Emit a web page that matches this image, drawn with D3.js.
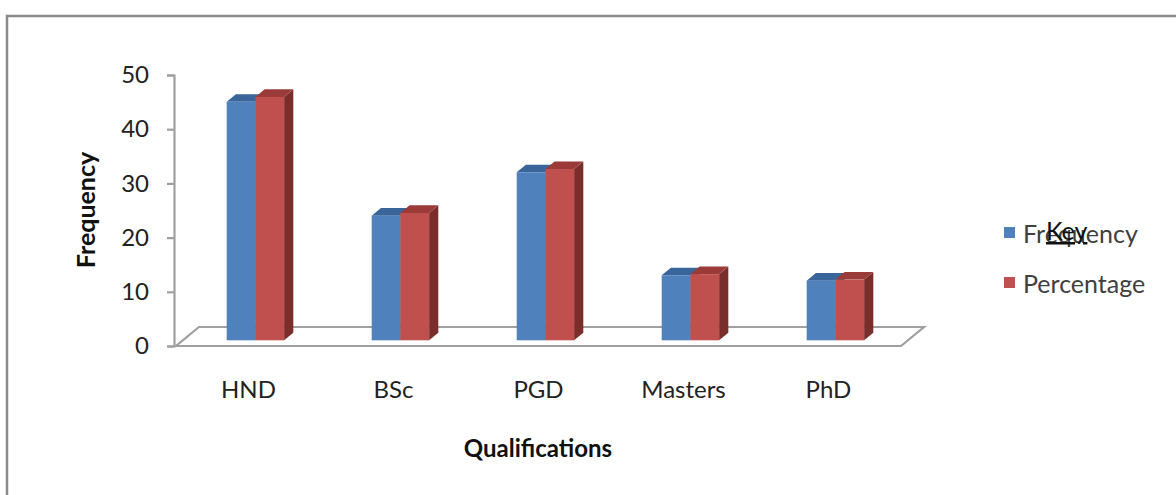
<!DOCTYPE html>
<html>
<head>
<meta charset="utf-8">
<script src="https://cdn.jsdelivr.net/npm/d3@7"></script>
<style>
  html, body { margin: 0; padding: 0; background: #fff; }
  svg { display: block; }
  text { font-family: Lato, "Open Sans", sans-serif; }
</style>
</head>
<body>
<svg id="chart" width="1176" height="495"></svg>
<script>
// Respondents by highest qualification
const categories = ["HND", "BSc", "PGD", "Masters", "PhD"];
const seriesNames = ["Frequency", "Percentage"];
const frequency = [44, 23, 31, 12, 11];
const percentage = [44.9, 23.5, 31.6, 12.2, 11.2];
const yTicks = [0, 10, 20, 30, 40, 50];

const seriesValues = [frequency, percentage];
const faceColors = ["#4F81BD", "#C0504D"];
const topColors = ["#3A659A", "#9A3B39"];
const sideColors = ["#2F5380", "#7A2E2C"];

const svg = d3.select("#chart");

// outer frame (opens past the right and bottom edges)
svg.append("path")
  .attr("d", "M7,500 L7,16 L1180,16")
  .attr("fill", "none")
  .attr("stroke", "#8a8a8a")
  .attr("stroke-width", 2.5);

// plot geometry: front edge of floor and depth vector
const floorLeft = 176, floorRight = 901;
const depth = { dx: 23, dy: -19 };
const barFront = 0.3, barBack = 0.7;

const y = d3.scaleLinear().domain([0, 50]).range([346, 75]);
const x = d3.scaleBand().domain(categories).range([floorLeft, floorRight])
  .paddingInner(0.604).paddingOuter(0.302);
const xs = d3.scaleBand().domain(seriesNames).range([0, x.bandwidth()]);

// floor
const y0 = y(0);
svg.append("path")
  .attr("d", `M${floorLeft},${y0} L${floorRight},${y0} L${floorRight + depth.dx},${y0 + depth.dy} L${floorLeft + depth.dx},${y0 + depth.dy} Z`)
  .attr("fill", "#fff")
  .attr("stroke", "#a0a0a0")
  .attr("stroke-width", 2.2);

// value axis
const yAxis = d3.axisLeft(y).tickValues(yTicks).tickSize(7).tickPadding(18);
const gy = svg.append("g").attr("transform", "translate(174,0)").call(yAxis);
gy.select(".domain").attr("stroke", "#a0a0a0").attr("stroke-width", 2.2);
gy.selectAll(".tick line").attr("stroke", "#a0a0a0").attr("stroke-width", 2.2);
gy.selectAll(".tick text").attr("font-size", 24).attr("fill", "#222");

// bars (side and top faces first, front face last)
const fx = depth.dx * barFront, fy = depth.dy * barFront;
const bdx = depth.dx * (barBack - barFront), bdy = depth.dy * (barBack - barFront);

categories.forEach((cat, ci) => {
  seriesNames.forEach((s, si) => {
    const v = seriesValues[si][ci];
    const x0 = x(cat) + xs(s) + fx;
    const x1 = x0 + xs.bandwidth();
    const yb = y(0) + fy;
    const yt = y(v) + fy;
    const g = svg.append("g");
    g.append("path")
      .attr("d", `M${x1},${yb} L${x1 + bdx},${yb + bdy} L${x1 + bdx},${yt + bdy} L${x1},${yt} Z`)
      .attr("fill", sideColors[si]);
    g.append("path")
      .attr("d", `M${x0},${yt} L${x0 + bdx},${yt + bdy} L${x1 + bdx},${yt + bdy} L${x1},${yt} Z`)
      .attr("fill", topColors[si]);
    g.append("rect")
      .attr("x", x0).attr("y", yt)
      .attr("width", x1 - x0).attr("height", yb - yt)
      .attr("fill", faceColors[si]);
  });
});

// category labels
svg.append("g").selectAll("text").data(categories).join("text")
  .attr("x", d => x(d) + x.bandwidth() / 2)
  .attr("y", 398)
  .attr("text-anchor", "middle")
  .attr("font-size", 24)
  .attr("fill", "#222")
  .text(d => d);

// axis titles
svg.append("text")
  .attr("x", 538).attr("y", 457)
  .attr("text-anchor", "middle")
  .attr("font-size", 24).attr("font-weight", "bold").attr("fill", "#111")
  .text("Qualifications");

svg.append("text")
  .attr("transform", "translate(95,210) rotate(-90)")
  .attr("text-anchor", "middle")
  .attr("font-size", 25).attr("font-weight", "bold").attr("fill", "#111")
  .text("Frequency");

// legend
const legend = svg.append("g");
seriesNames.forEach((s, i) => {
  const ly = 233 + i * 50;
  legend.append("rect")
    .attr("x", 1004).attr("y", ly - 6).attr("width", 11).attr("height", 11)
    .attr("fill", faceColors[i]);
  legend.append("text")
    .attr("x", 1023).attr("y", ly + 10)
    .attr("font-size", 25).attr("fill", "#404040")
    .text(s);
});

// key heading
legend.append("text")
  .attr("x", 1046).attr("y", 240)
  .attr("font-size", 25).attr("fill", "#111")
  .attr("text-decoration", "underline")
  .text("Key");
</script>
</body>
</html>
